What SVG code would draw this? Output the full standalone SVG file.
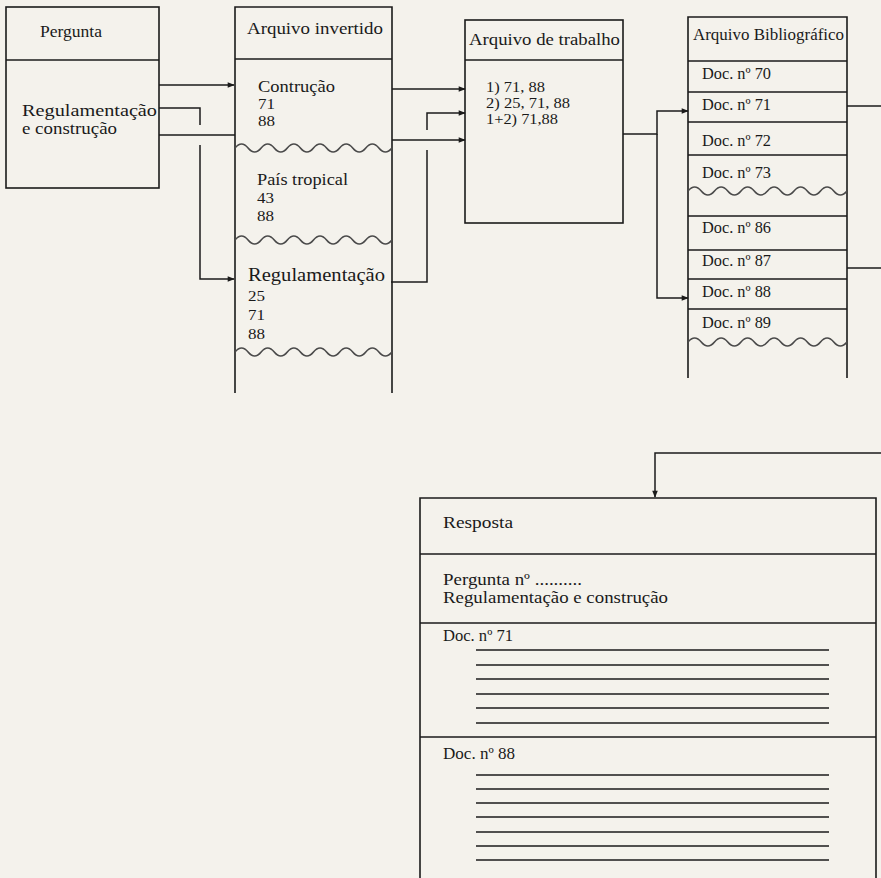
<svg xmlns="http://www.w3.org/2000/svg" width="881" height="878" viewBox="0 0 881 878">
<style>
.bg{fill:#f4f2ec}
.box{fill:none;stroke:#1b1b1b;stroke-width:1.6}
.ln{fill:none;stroke:#1b1b1b;stroke-width:1.5}
.wave{fill:none;stroke:#4a4a4a;stroke-width:1.6}
.rule{fill:none;stroke:#1b1b1b;stroke-width:1.4}
text{font-family:"Liberation Serif","Times New Roman",serif;fill:#1a1a1a}
.s15{font-size:15px}
.s16{font-size:16px}
.s17{font-size:17px}
.s18{font-size:18px}
</style>
<defs>
<marker id="arr" viewBox="0 0 10 10" refX="9" refY="5" markerWidth="8" markerHeight="7" orient="auto" markerUnits="userSpaceOnUse"><path d="M0,1 L10,5 L0,9 z" fill="#1b1b1b"/></marker>
</defs>
<rect class="bg" x="0" y="0" width="881" height="878"/>

<g id="pergunta">
<rect class="box" x="6" y="7" width="153" height="181"/>
<line class="box" x1="6" y1="60" x2="159" y2="60"/>
<text class="s16" x="40" y="37" textLength="62" lengthAdjust="spacingAndGlyphs">Pergunta</text>
<text class="s16" x="22" y="116" textLength="135" lengthAdjust="spacingAndGlyphs">Regulamentação</text>
<text class="s16" x="22" y="134" textLength="95" lengthAdjust="spacingAndGlyphs">e construção</text>
</g>

<g id="arquivo-invertido">
<path class="box" d="M235,393 V7 H392 V393"/>
<line class="box" x1="235" y1="59" x2="392" y2="59"/>
<text class="s17" x="247" y="34" textLength="136" lengthAdjust="spacingAndGlyphs">Arquivo invertido</text>
<text class="s16" x="258" y="92" textLength="77" lengthAdjust="spacingAndGlyphs">Contrução</text>
<text class="s15" x="258" y="109" textLength="17" lengthAdjust="spacingAndGlyphs">71</text>
<text class="s15" x="258" y="126" textLength="17" lengthAdjust="spacingAndGlyphs">88</text>
<path class="wave" d="M235,148 q6.54,-8 13.08,0 t13.08,0 t13.08,0 t13.08,0 t13.08,0 t13.08,0 t13.08,0 t13.08,0 t13.08,0 t13.08,0 t13.08,0 t13.08,0"/>
<text class="s16" x="257" y="185" textLength="91" lengthAdjust="spacingAndGlyphs">País tropical</text>
<text class="s15" x="257" y="203" textLength="17" lengthAdjust="spacingAndGlyphs">43</text>
<text class="s15" x="257" y="221" textLength="17" lengthAdjust="spacingAndGlyphs">88</text>
<path class="wave" d="M235,240 q6.54,-8 13.08,0 t13.08,0 t13.08,0 t13.08,0 t13.08,0 t13.08,0 t13.08,0 t13.08,0 t13.08,0 t13.08,0 t13.08,0 t13.08,0"/>
<text class="s18" x="248" y="281" textLength="137" lengthAdjust="spacingAndGlyphs">Regulamentação</text>
<text class="s15" x="248" y="301" textLength="17" lengthAdjust="spacingAndGlyphs">25</text>
<text class="s15" x="248" y="320" textLength="17" lengthAdjust="spacingAndGlyphs">71</text>
<text class="s15" x="248" y="339" textLength="17" lengthAdjust="spacingAndGlyphs">88</text>
<path class="wave" d="M235,352 q6.54,-8 13.08,0 t13.08,0 t13.08,0 t13.08,0 t13.08,0 t13.08,0 t13.08,0 t13.08,0 t13.08,0 t13.08,0 t13.08,0 t13.08,0"/>
</g>

<g id="arquivo-trabalho">
<rect class="box" x="465" y="20" width="158" height="203"/>
<line class="box" x1="465" y1="60" x2="623" y2="60"/>
<text class="s16" x="469" y="45" textLength="151" lengthAdjust="spacingAndGlyphs">Arquivo de trabalho</text>
<text class="s15" x="486" y="92" textLength="59" lengthAdjust="spacingAndGlyphs">1) 71, 88</text>
<text class="s15" x="486" y="108" textLength="84" lengthAdjust="spacingAndGlyphs">2) 25, 71, 88</text>
<text class="s15" x="486" y="124" textLength="72" lengthAdjust="spacingAndGlyphs">1+2) 71,88</text>
</g>

<g id="arquivo-bibliografico">
<path class="box" d="M688,378 V17 H847 V378"/>
<path class="box" d="M688,61 H847 M688,92 H847 M688,122 H847 M688,155 H847 M688,216 H847 M688,250 H847 M688,279 H847 M688,309 H847"/>
<text class="s16" x="693" y="40" textLength="151" lengthAdjust="spacingAndGlyphs">Arquivo Bibliográfico</text>
<text class="s16" x="702" y="79" textLength="69" lengthAdjust="spacingAndGlyphs">Doc. nº 70</text>
<text class="s16" x="702" y="110" textLength="69" lengthAdjust="spacingAndGlyphs">Doc. nº 71</text>
<text class="s16" x="702" y="146" textLength="69" lengthAdjust="spacingAndGlyphs">Doc. nº 72</text>
<text class="s16" x="702" y="178" textLength="69" lengthAdjust="spacingAndGlyphs">Doc. nº 73</text>
<path class="wave" d="M688,191 q6.63,-8 13.25,0 t13.25,0 t13.25,0 t13.25,0 t13.25,0 t13.25,0 t13.25,0 t13.25,0 t13.25,0 t13.25,0 t13.25,0 t13.25,0"/>
<text class="s16" x="702" y="233" textLength="69" lengthAdjust="spacingAndGlyphs">Doc. nº 86</text>
<text class="s16" x="702" y="266" textLength="69" lengthAdjust="spacingAndGlyphs">Doc. nº 87</text>
<text class="s16" x="702" y="297" textLength="69" lengthAdjust="spacingAndGlyphs">Doc. nº 88</text>
<text class="s16" x="702" y="328" textLength="69" lengthAdjust="spacingAndGlyphs">Doc. nº 89</text>
<path class="wave" d="M688,342 q6.63,-8 13.25,0 t13.25,0 t13.25,0 t13.25,0 t13.25,0 t13.25,0 t13.25,0 t13.25,0 t13.25,0 t13.25,0 t13.25,0 t13.25,0"/>
</g>

<g id="resposta">
<path class="box" d="M420,878 V498 H876 V878"/>
<path class="box" d="M420,554 H876 M420,623 H876 M420,737 H876"/>
<text class="s16" x="443" y="528" textLength="70" lengthAdjust="spacingAndGlyphs">Resposta</text>
<text class="s16" x="443" y="585" textLength="139" lengthAdjust="spacingAndGlyphs">Pergunta nº ..........</text>
<text class="s17" x="443" y="603" textLength="225" lengthAdjust="spacingAndGlyphs">Regulamentação e construção</text>
<text class="s16" x="443" y="641" textLength="70" lengthAdjust="spacingAndGlyphs">Doc. nº 71</text>
<path class="rule" d="M476,650 H829 M476,665 H829 M476,679 H829 M476,694 H829 M476,708 H829 M476,723 H829"/>
<text class="s16" x="443" y="759" textLength="72" lengthAdjust="spacingAndGlyphs">Doc. nº 88</text>
<path class="rule" d="M476,775 H829 M476,789 H829 M476,803 H829 M476,817 H829 M476,832 H829 M476,846 H829 M476,860 H829"/>
</g>

<g id="connectors">
<path class="ln" d="M159,85 H234" marker-end="url(#arr)"/>
<path class="ln" d="M159,135 H235"/>
<path class="ln" d="M159,108 H200 V125"/>
<path class="ln" d="M200,145 V279 H234" marker-end="url(#arr)"/>
<path class="ln" d="M392,89 H465" marker-end="url(#arr)"/>
<path class="ln" d="M392,140 H465" marker-end="url(#arr)"/>
<path class="ln" d="M391,282 H427 V150"/>
<path class="ln" d="M427,130 V113 H465" marker-end="url(#arr)"/>
<path class="ln" d="M623,134 H657 V111 H688" marker-end="url(#arr)"/>
<path class="ln" d="M657,134 V298 H688" marker-end="url(#arr)"/>
<path class="ln" d="M847,106 H881"/>
<path class="ln" d="M847,268 H881"/>
<path class="ln" d="M881,453 H655 V497" marker-end="url(#arr)"/>
</g>
</svg>
